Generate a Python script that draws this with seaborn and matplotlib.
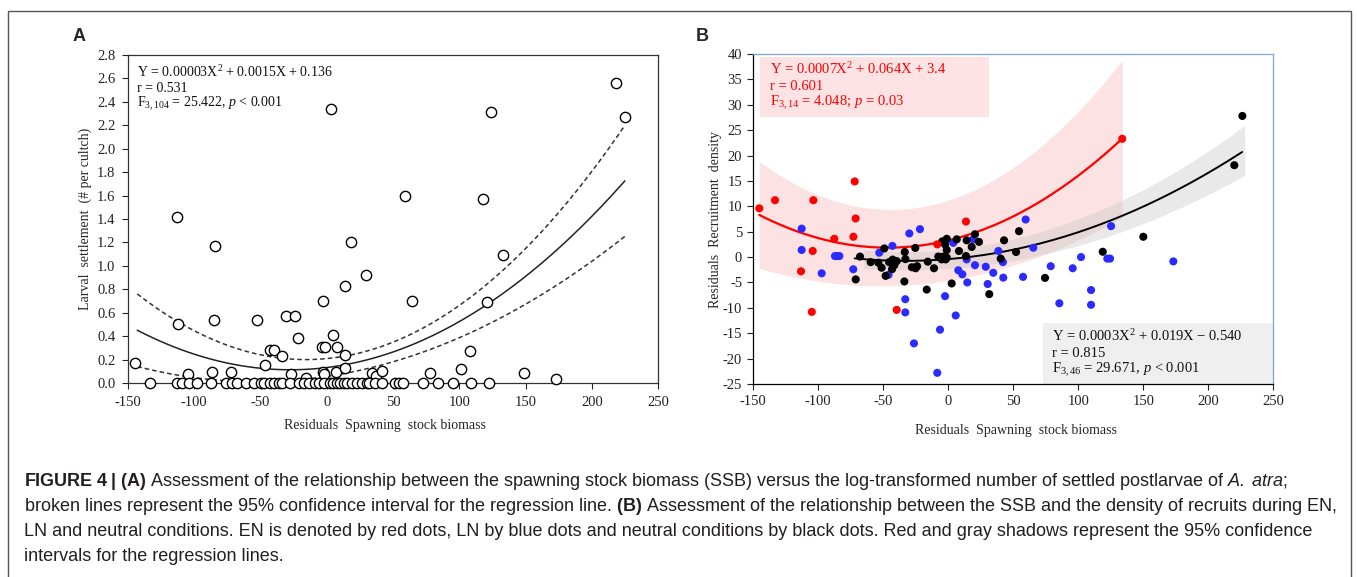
import numpy as np
import pandas as pd
import matplotlib
matplotlib.use("Agg")
import matplotlib.pyplot as plt
import seaborn as sns
from matplotlib.patches import Rectangle

# -------------------------------
# Panel A data: larval settlement vs residual SSB
# -------------------------------
a_ssb = [-144.9, -112.7, -112.6, -105.0, -86.9, -84.3, -85.0, -72.6, -52.5, -46.5,
         -43.0, -39.7, -33.7, -30.6, -24.2, -26.7, -21.9, -16.0, -3.0, -3.5,
         -1.0, -3.0, -2.0, 3.2, 4.7, 7.0, 7.8, 13.5, 13.5, 14.0,
         18.4, 29.3, 34.1, 37.3, 41.6, 59.0, 64.7, 78.0, 101.6, 108.1,
         117.7, 121.2, 124.2, 132.7, 148.8, 172.7, 218.1, 224.8,
         -133.4, -112.7, -109.0, -104.0, -97.7, -87.1, -76.0, -71.3, -67.5, -61.3,
         -55.0, -50.0, -47.0, -43.0, -40.0, -36.0, -33.7, -27.4, -20.6, -17.0,
         -13.6, -8.6, -6.1, -2.3, 2.7, 5.0, 7.8, 10.0, 12.7, 15.3,
         19.0, 22.8, 26.6, 30.3, 31.6, 36.6, 41.6, 51.7, 54.2, 57.5,
         73.0, 84.3, 95.4, 108.9, 122.5]
a_larvae = [0.17, 1.42, 0.50, 0.074, 0.09, 1.17, 0.54, 0.09, 0.54, 0.155,
            0.285, 0.285, 0.23, 0.57, 0.57, 0.074, 0.38, 0.04, 0.70, 0.31,
            0.31, 0.09, 0.074, 2.34, 0.41, 0.09, 0.31, 0.24, 0.13, 0.83,
            1.20, 0.92, 0.085, 0.062, 0.10, 1.60, 0.70, 0.085, 0.12, 0.27,
            1.57, 0.69, 2.31, 1.09, 0.085, 0.037, 2.56, 2.27,
            0.0, 0.0, 0.0, 0.0, 0.0, 0.0, 0.0, 0.0, 0.0, 0.0,
            0.0, 0.0, 0.0, 0.0, 0.0, 0.0, 0.0, 0.0, 0.0, 0.0,
            0.0, 0.0, 0.0, 0.0, 0.0, 0.0, 0.0, 0.0, 0.0, 0.0,
            0.0, 0.0, 0.0, 0.0, 0.0, 0.0, 0.0, 0.0, 0.0, 0.0,
            0.0, 0.0, 0.0, 0.0, 0.0]
a_fit = [0.0000253, 0.00139, 0.132]        # quadratic as drawn (a, b, c)
a_ci_half = [0.00000924, -0.000312, 0.0764]  # half width of the 95% CI
a_range = [-143, 225]

# -------------------------------
# Panel B data: recruitment density residuals by condition
# -------------------------------
en_x = [-145.4, -133.3, -103.8, -72.0, -71.3, -73.0, -87.7, -104.3, -113.3, -105.0,
        -39.7, -8.5, 13.6, 133.8]
en_y = [9.6, 11.2, 11.2, 14.9, 7.6, 4.0, 3.6, 1.2, -2.8, -10.8,
        -10.4, 2.5, 7.0, 23.3]
ln_x = [-112.8, -112.8, -97.4, -87.2, -85.4, -83.8, -73.1, -53.1, -43.0, -30.0,
        -21.8, -46.0, -33.1, -33.1, -26.4, -8.5, -6.4, -2.5, 5.7, 7.7,
        10.8, 3.8, 14.1, 14.6, 19.2, 20.5, 28.8, 30.3, 34.6, 38.5,
        42.3, 42.0, 59.5, 65.4, 57.5, 125.2, 102.1, 78.8, 95.7, 122.3,
        124.4, 173.1, 85.4, 109.8, 109.8]
ln_y = [5.6, 1.4, -3.2, 0.2, 0.2, 0.2, -2.4, 0.86, 2.2, 4.65,
        5.5, -3.5, -8.3, -10.9, -17.0, -22.8, -14.3, -7.7, -11.5, -2.6,
        -3.4, 2.8, -0.45, -5.0, 3.5, -1.6, -1.9, -5.3, -3.1, 1.2,
        -4.05, -1.0, 7.4, 1.84, -3.9, 6.1, 0.0, -1.8, -2.2, -0.3,
        -0.3, -0.85, -9.1, -6.5, -9.4]
nt_x = [-71.2, -67.9, -59.7, -53.8, -51.3, -49.2, -48.2, -45.5, -43.3, -42.8,
        -41.5, -39.7, -33.5, -33.8, -33.0, -28.0, -25.4, -25.1, -24.0, -16.6,
        -15.8, -11.0, -7.7, -6.4, -5.1, -3.8, -2.0, -1.2, -4.6, -1.2,
        -2.5, -1.2, 2.6, 6.5, 8.2, 14.1, 13.6, 18.0, 20.5, 23.6,
        31.5, 40.3, 42.9, 54.4, 52.1, 74.4, 118.8, 150.0, 220.0, 226.2]
nt_y = [-4.4, 0.1, -1.0, -1.1, -2.1, 1.7, -3.7, -1.0, -2.4, -0.5,
        -1.6, -0.8, 1.0, -4.8, -0.4, -2.0, 1.8, -2.2, -1.8, -6.4,
        -0.9, -2.2, 0.1, -0.1, -0.45, 0.1, -0.45, -0.1, 3.1, 3.6,
        2.5, 1.4, -5.2, 3.5, 1.2, 3.3, 0.2, 2.0, 4.5, 3.0,
        -7.3, -0.3, 3.3, 5.1, 1.0, -4.1, 1.05, 4.0, 18.1, 27.8]
en_fit = [0.00066, 0.0615, 3.29]
en_ci_half = [0.0002672, 0.02086, 7.91]
en_range = [-145.4, 133.8]
nt_fit = [0.00032, 0.021, -0.40]
nt_ci_half = [0.0000436, 0.003454, 1.845]
nt_range = [-72, 226]
nt_band_range = [-65, 228]

RED, BLUE = "#ff0000", "#2b2bff"


def quad(c, x):
    return c[0] * x ** 2 + c[1] * x + c[2]


sns.set_style("ticks")
plt.rcParams["font.family"] = ["Liberation Serif", "DejaVu Serif"]
plt.rcParams["axes.unicode_minus"] = False
plt.rcParams["mathtext.fontset"] = "custom"
plt.rcParams["mathtext.rm"] = "Liberation Serif"
plt.rcParams["mathtext.it"] = "Liberation Serif:italic"
plt.rcParams["mathtext.bf"] = "Liberation Sans:bold"
plt.rcParams["mathtext.sf"] = "Liberation Sans:italic"

W, H = 1357, 577
fig = plt.figure(figsize=(W / 100, H / 100), dpi=100)
axA = fig.add_axes([128 / W, 1 - 383 / H, 530 / W, 328 / H])
axB = fig.add_axes([753.3 / W, 1 - 384 / H, 520 / W, 330 / H])

# -------------------------------
# Panel A
# -------------------------------
xs = np.linspace(a_range[0], a_range[1], 200)
fit = quad(a_fit, xs)
half = quad(a_ci_half, xs)
sns.lineplot(x=xs, y=fit, ax=axA, color="#222222", lw=1.1, zorder=2)
axA.plot(xs, fit + half, color="#333333", lw=1.1, ls=(0, (3, 2)), zorder=2)
axA.plot(xs, fit - half, color="#333333", lw=1.1, ls=(0, (3, 2)), zorder=2)
sns.scatterplot(x=a_ssb, y=a_larvae, ax=axA, s=55, color="white",
                edgecolor="black", linewidth=1.0, clip_on=False, zorder=3)

axA.set_xlim(-150, 250)
axA.set_ylim(0, 2.8)
axA.set_xticks(np.arange(-150, 251, 50))
axA.set_yticks(np.arange(0, 2.81, 0.2))
axA.set_yticklabels([f"{v:.1f}" for v in np.arange(0, 2.81, 0.2)])
for s in axA.spines.values():
    s.set_color("#333333")
    s.set_linewidth(0.9)
axA.tick_params(direction="out", length=4, width=0.8, pad=5, labelsize=10.5,
                colors="#222222")
axA.set_xlabel("Residuals  Spawning  stock biomass", fontsize=10)
axA.set_ylabel("Larval  settlement  (# per cultch)", fontsize=10)
axA.xaxis.set_label_coords(0.485, -0.11)
axA.yaxis.set_label_coords(-0.068, 0.5)

statsA = ["Y = 0.00003X$^{2}$ + 0.0015X + 0.136",
          "r = 0.531",
          "F$_{3,104}$ = 25.422, $p$ < 0.001"]
for txt, yy in zip(statsA, [0.948, 0.899, 0.851]):
    axA.text(0.017, yy, txt, transform=axA.transAxes, fontsize=10,
             va="center", ha="left", color="#111111")

# -------------------------------
# Panel B
# -------------------------------
xr = np.linspace(en_range[0], en_range[1], 200)
axB.fill_between(xr, quad(en_fit, xr) - quad(en_ci_half, xr),
                 quad(en_fit, xr) + quad(en_ci_half, xr),
                 color="#f8a0a0", alpha=0.3, lw=0, zorder=1)
xg = np.linspace(nt_band_range[0], nt_band_range[1], 200)
axB.fill_between(xg, quad(nt_fit, xg) - quad(nt_ci_half, xg),
                 quad(nt_fit, xg) + quad(nt_ci_half, xg),
                 color="#c8c8c8", alpha=0.4, lw=0, zorder=1.1)

axB.add_patch(Rectangle((0.013, 0.81), 0.44, 0.181, transform=axB.transAxes,
                        color="#fde3e3", lw=0, zorder=0.5))
axB.add_patch(Rectangle((0.5565, 0.0), 0.4435, 0.185, transform=axB.transAxes,
                        color="#efefef", lw=0, zorder=0.5))

pts = pd.DataFrame({
    "ssb": ln_x + nt_x + en_x,
    "density": ln_y + nt_y + en_y,
    "cond": ["LN"] * len(ln_x) + ["Neutral"] * len(nt_x) + ["EN"] * len(en_x),
})
sns.scatterplot(data=pts, x="ssb", y="density", hue="cond", ax=axB,
                palette={"LN": BLUE, "Neutral": "black", "EN": RED},
                s=34, linewidth=0, legend=False, zorder=3)

sns.lineplot(x=xr, y=quad(en_fit, xr), ax=axB, color=RED, lw=1.6, zorder=2)
xb = np.linspace(nt_range[0], nt_range[1], 200)
sns.lineplot(x=xb, y=quad(nt_fit, xb), ax=axB, color="black", lw=1.4, zorder=2.5)

axB.set_xlim(-150, 250)
axB.set_ylim(-25, 40)
axB.set_xticks(np.arange(-150, 251, 50))
axB.set_yticks(np.arange(-25, 41, 5))
axB.spines["left"].set_color("black")
axB.spines["bottom"].set_color("black")
for side in ["top", "right"]:
    axB.spines[side].set_color("#7ea6d6")
for s in axB.spines.values():
    s.set_linewidth(0.9)
axB.tick_params(direction="out", length=4, width=0.8, pad=4, labelsize=10.5,
                colors="#222222")
axB.set_xlabel("Residuals  Spawning  stock biomass", fontsize=10)
axB.set_ylabel("Residuals  Recruitment  density", fontsize=10)
axB.xaxis.set_label_coords(0.505, -0.121)
axB.yaxis.set_label_coords(-0.06, 0.5)

statsEN = ["Y = 0.0007X$^{2}$ + 0.064X + 3.4",
           "r = 0.601",
           "F$_{3,14}$ = 4.048; $p$ = 0.03"]
for txt, yy in zip(statsEN, [0.954, 0.901, 0.852]):
    axB.text(0.032, yy, txt, transform=axB.transAxes, fontsize=10.5,
             va="center", ha="left", color=RED, zorder=4)
statsNT = ["Y = 0.0003X$^{2}$ + 0.019X \u2212 0.540",
           "r = 0.815",
           "F$_{3,46}$ = 29.671, $p$ < 0.001"]
for txt, yy in zip(statsNT, [0.145, 0.093, 0.042]):
    axB.text(0.574, yy, txt, transform=axB.transAxes, fontsize=10.5,
             va="center", ha="left", color="#111111", zorder=4)

# -------------------------------
# Panel letters, frame and caption
# -------------------------------
for letter, px in [("A", 79), ("B", 702)]:
    fig.text(px / W, 1 - 36.5 / H, letter, fontsize=13, fontweight="bold",
             family="Liberation Sans", ha="center", va="center")

fig.add_artist(Rectangle((8 / W, -0.05), 1343 / W, 1.05 - 11 / H,
                         transform=fig.transFigure, fill=False,
                         ec="#555555", lw=1.0, clip_on=False))

caption = [
    r"$\mathbf{FIGURE\ 4\ |\ (A)}$ Assessment of the relationship between the spawning stock "
    r"biomass (SSB) versus the log-transformed number of settled postlarvae of $\mathsf{A.\ atra}$;",
    r"broken lines represent the 95% confidence interval for the regression line. $\mathbf{(B)}$ "
    r"Assessment of the relationship between the SSB and the density of recruits during EN,",
    "LN and neutral conditions. EN is denoted by red dots, LN by blue dots and neutral "
    "conditions by black dots. Red and gray shadows represent the 95% confidence",
    "intervals for the regression lines.",
]
for line, py in zip(caption, [481.7, 506.7, 531.7, 556.7]):
    fig.text(24 / W, 1 - py / H, line, fontsize=13, family="Liberation Sans",
             color="#231f20", ha="left", va="center")

plt.savefig("out.png", dpi=100)
